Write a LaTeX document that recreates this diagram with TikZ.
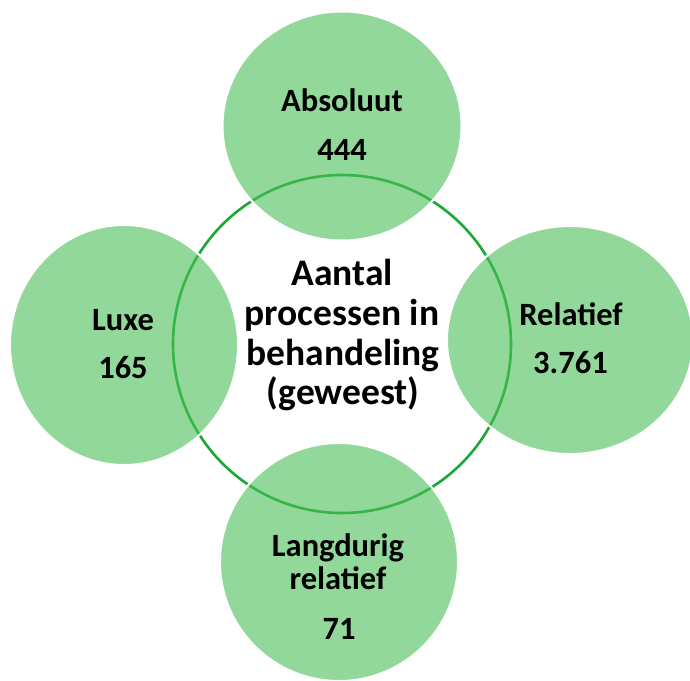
\documentclass[tikz,border=0pt]{standalone}
\usepackage{fontspec}
\setmainfont{Carlito}
\usetikzlibrary{shapes.geometric}
\definecolor{satfill}{RGB}{73,190,87}
\definecolor{ringgreen}{RGB}{28,168,52}
\tikzset{
  sat/.style={ellipse, inner sep=0pt, fill=satfill, fill opacity=0.6, draw=white, draw opacity=1, line width=2pt},
  centre/.style={circle, inner sep=0pt, minimum size=338pt, draw=ringgreen, line width=2.6pt, fill=white},
  satlabel/.style={anchor=base, inner sep=0pt, font=\fontsize{32.5}{36}\selectfont\bfseries},
  mainlabel/.style={anchor=base, inner sep=0pt, font=\fontsize{37.5}{40}\selectfont\bfseries}
}
\begin{document}
\begin{tikzpicture}[x=1pt,y=-1pt]
\useasboundingbox (0,0) rectangle (690,680);
\node[centre] (c) at (342,344) {};
\node[sat, minimum width=239pt, minimum height=229pt] (top) at (342,126) {};
\node[sat, minimum width=228pt, minimum height=240pt] (left) at (124,345) {};
\node[sat, minimum width=246pt, minimum height=228pt] (right) at (570,340) {};
\node[sat, minimum width=238pt, minimum height=238pt] (bottom) at (339,562) {};
% central text
\node[mainlabel] (m1) at (342,285) {Aantal};
\node[mainlabel] (m2) at (342,325) {processen in};
\node[mainlabel] (m3) at (343,365) {behandeling};
\node[mainlabel] (m4) at (343,404) {(geweest)};
% satellite labels
\node[satlabel] (t1) at (342,111) {Absoluut};
\node[satlabel] (t2) at (342,160) {444};
\node[satlabel] (l1) at (123,330) {Luxe};
\node[satlabel] (l2) at (123,378) {165};
\node[satlabel] (r1) at (571,325) {Relatief};
\node[satlabel] (r2) at (570.5,373) {3.761};
\node[satlabel] (b1) at (338,556) {Langdurig};
\node[satlabel] (b2) at (338,589) {relatief};
\node[satlabel] (b3) at (339,639) {71};
\end{tikzpicture}
\end{document}
